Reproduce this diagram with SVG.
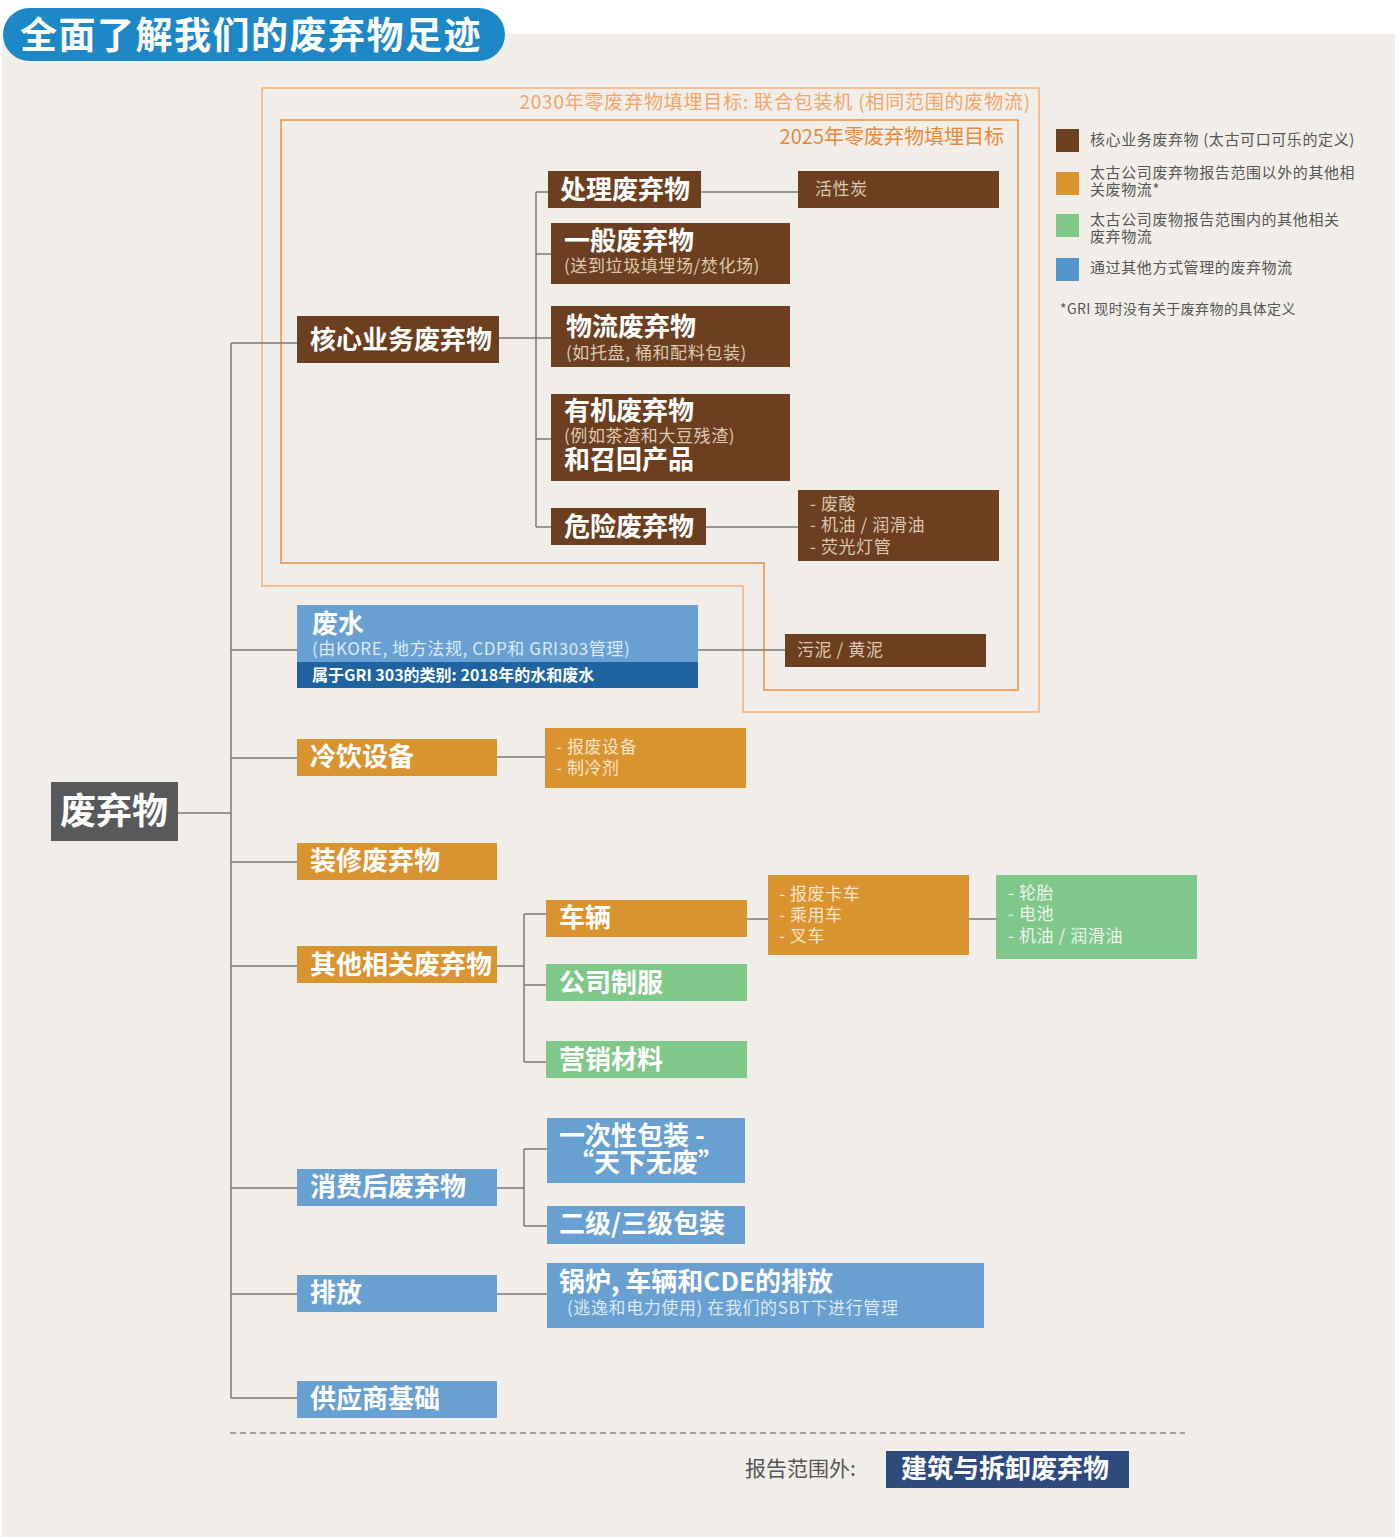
<svg xmlns="http://www.w3.org/2000/svg" width="1397" height="1537" viewBox="0 0 1397 1537">
<style>
text{font-family:"Noto Sans CJK SC","Noto Sans",sans-serif}
.t{fill:#fff;font-weight:700;font-size:26px}
.s{font-size:17px;letter-spacing:0.6px}
.sb{fill:#DCC8B4}
.so{fill:#F7E4C8}
.sg{fill:#EAF5EA}
.su{fill:#DCE8F4}
.br{fill:#6B3F1F}
.or{fill:#D9932F}
.gr{fill:#80C78A}
.bl{fill:#68A0D2}
.c{stroke:#7A7A7A;stroke-width:1.5;fill:none}
.lg{font-size:15px;fill:#555;letter-spacing:0.6px}
</style>
<rect x="0" y="0" width="1397" height="1537" fill="#fff"/>
<rect x="2" y="34" width="1393" height="1503" fill="#F1EEE9"/>
<g id="title">
<rect x="3" y="8" width="502" height="53" rx="26.5" fill="#1E87C6"/>
<text x="20" y="49" font-size="37" font-weight="700" fill="#fff" letter-spacing="1.5">全面了解我们的废弃物足迹</text>
</g>
<g id="targets">
<path d="M262 88H1039V712H743V586H262Z" fill="none" stroke="#F4B07A" stroke-width="1.5"/>
<text x="1031" y="109" text-anchor="end" font-size="19" letter-spacing="0.8" fill="#F0A66A">2030年零废弃物填埋目标: 联合包装机 (相同范围的废物流)</text>
<path d="M281 120H1018V690H764V563H281Z" fill="none" stroke="#EE8E3C" stroke-width="1.5"/>
<text x="1004" y="144" text-anchor="end" font-size="20" fill="#E8893A">2025年零废弃物填埋目标</text>
</g>
<g id="connectors">
<path class="c" d="M178 813H231M231 343V1398M231 343H297M231 650H297M231 758H297M231 862H297M231 966H297M231 1188H297M231 1294H297M231 1398H297"/>
<path class="c" d="M499 338H536M536 192V527M536 192H548M536 254H551M536 338H551M536 439H551M536 527H551M701 192H798M706 527H798"/>
<path class="c" d="M698 650H785M497 757H545"/>
<path class="c" d="M497 966H524M524 914V1062M524 914H546M524 985H546M524 1062H546M747 919H768M969 919H996"/>
<path class="c" d="M497 1188H524M524 1149V1226M524 1149H547M524 1226H547M497 1294H547"/>
<path d="M230 1433H1185" stroke="#888" stroke-width="1.3" stroke-dasharray="6 4" fill="none"/>
</g>
<g id="n-waste"><rect x="51" y="782" width="127" height="59" fill="#58595B"/><text x="60" y="824" font-size="36" font-weight="700" fill="#fff">废弃物</text></g>
<g id="n-core"><rect class="br" x="297" y="316" width="202" height="47"/><text class="t" x="310" y="349">核心业务废弃物</text></g>
<g id="n-treat"><rect class="br" x="548" y="171" width="153" height="37"/><text class="t" x="560" y="199">处理废弃物</text></g>
<g id="n-carbon"><rect class="br" x="798" y="171" width="201" height="37"/><text class="s sb" x="815" y="195">活性炭</text></g>
<g id="n-general"><rect class="br" x="551" y="223" width="239" height="61"/><text class="t" x="564" y="250">一般废弃物</text><text class="s sb" x="564" y="272">(送到垃圾填埋场/焚化场)</text></g>
<g id="n-logistics"><rect class="br" x="551" y="306" width="239" height="61"/><text class="t" x="566" y="336">物流废弃物</text><text class="s sb" x="566" y="359">(如托盘, 桶和配料包装)</text></g>
<g id="n-organic"><rect class="br" x="551" y="394" width="239" height="87"/><text class="t" x="564" y="420">有机废弃物</text><text class="s sb" x="564" y="442">(例如茶渣和大豆残渣)</text><text class="t" x="564" y="469">和召回产品</text></g>
<g id="n-hazard"><rect class="br" x="551" y="508" width="155" height="37"/><text class="t" x="564" y="536">危险废弃物</text></g>
<g id="n-hazlist"><rect class="br" x="798" y="490" width="201" height="71"/><text class="s sb" x="810" y="510">- 废酸</text><text class="s sb" x="810" y="531">- 机油 / 润滑油</text><text class="s sb" x="810" y="553">- 荧光灯管</text></g>
<g id="n-water"><rect class="bl" x="297" y="605" width="401" height="57"/><rect x="297" y="662" width="401" height="26" fill="#1F64A0"/><text class="t" x="312" y="633">废水</text><text class="s su" x="312" y="655">(由KORE, 地方法规, CDP和 GRI303管理)</text><text x="312" y="681" font-size="16" font-weight="700" fill="#fff">属于GRI 303的类别: 2018年的水和废水</text></g>
<g id="n-sludge"><rect class="br" x="785" y="634" width="201" height="33"/><text class="s sb" x="797" y="656">污泥 / 黄泥</text></g>
<g id="n-cold"><rect class="or" x="297" y="739" width="200" height="37"/><text class="t" x="310" y="766">冷饮设备</text></g>
<g id="n-coldlist"><rect class="or" x="545" y="728" width="201" height="60"/><text class="s so" x="556" y="753">- 报废设备</text><text class="s so" x="556" y="774">- 制冷剂</text></g>
<g id="n-reno"><rect class="or" x="297" y="843" width="200" height="37"/><text class="t" x="310" y="870">装修废弃物</text></g>
<g id="n-other"><rect class="or" x="297" y="946" width="200" height="37"/><text class="t" x="310" y="974">其他相关废弃物</text></g>
<g id="n-vehicle"><rect class="or" x="546" y="900" width="201" height="37"/><text class="t" x="559" y="927">车辆</text></g>
<g id="n-vehlist"><rect class="or" x="768" y="875" width="201" height="80"/><text class="s so" x="779" y="900">- 报废卡车</text><text class="s so" x="779" y="921">- 乘用车</text><text class="s so" x="779" y="942">- 叉车</text></g>
<g id="n-vehparts"><rect class="gr" x="996" y="875" width="201" height="84"/><text class="s sg" x="1008" y="899">- 轮胎</text><text class="s sg" x="1008" y="920">- 电池</text><text class="s sg" x="1008" y="942">- 机油 / 润滑油</text></g>
<g id="n-uniform"><rect class="gr" x="546" y="964" width="201" height="37"/><text class="t" x="559" y="992">公司制服</text></g>
<g id="n-marketing"><rect class="gr" x="546" y="1041" width="201" height="37"/><text class="t" x="559" y="1069">营销材料</text></g>
<g id="n-post"><rect class="bl" x="297" y="1169" width="200" height="37"/><text class="t" x="310" y="1196">消费后废弃物</text></g>
<g id="n-single"><rect class="bl" x="547" y="1118" width="198" height="65"/><text class="t" x="559" y="1145">一次性包装 -</text><text class="t" x="568" y="1172">“天下无废”</text></g>
<g id="n-secondary"><rect class="bl" x="547" y="1206" width="198" height="38"/><text class="t" x="559" y="1233">二级/三级包装</text></g>
<g id="n-emission"><rect class="bl" x="297" y="1275" width="200" height="37"/><text class="t" x="310" y="1302">排放</text></g>
<g id="n-boiler"><rect class="bl" x="547" y="1263" width="437" height="65"/><text class="t" x="559" y="1291">锅炉, 车辆和CDE的排放</text><text class="s su" x="567" y="1314">(逃逸和电力使用) 在我们的SBT下进行管理</text></g>
<g id="n-supplier"><rect class="bl" x="297" y="1381" width="200" height="37"/><text class="t" x="310" y="1408">供应商基础</text></g>
<g id="out-scope">
<text x="745" y="1476" font-size="21" fill="#555">报告范围外:</text>
<rect x="886" y="1451" width="243" height="37" fill="#2F4A7C"/>
<text class="t" x="901" y="1478">建筑与拆卸废弃物</text>
</g>
<g id="legend">
<rect x="1056" y="129" width="23" height="23" fill="#6B3F1F"/>
<text class="lg" x="1090" y="145">核心业务废弃物 (太古可口可乐的定义)</text>
<rect x="1056" y="172" width="23" height="23" fill="#D9932F"/>
<text class="lg" x="1090" y="178">太古公司废弃物报告范围以外的其他相</text>
<text class="lg" x="1090" y="195">关废物流*</text>
<rect x="1056" y="214" width="23" height="23" fill="#80C78A"/>
<text class="lg" x="1090" y="225">太古公司废物报告范围内的其他相关</text>
<text class="lg" x="1090" y="242">废弃物流</text>
<rect x="1056" y="258" width="23" height="23" fill="#5396CE"/>
<text class="lg" x="1090" y="273">通过其他方式管理的废弃物流</text>
<text x="1060" y="314" font-size="14" fill="#555" letter-spacing="0.4">*GRI 现时没有关于废弃物的具体定义</text>
</g>
</svg>
